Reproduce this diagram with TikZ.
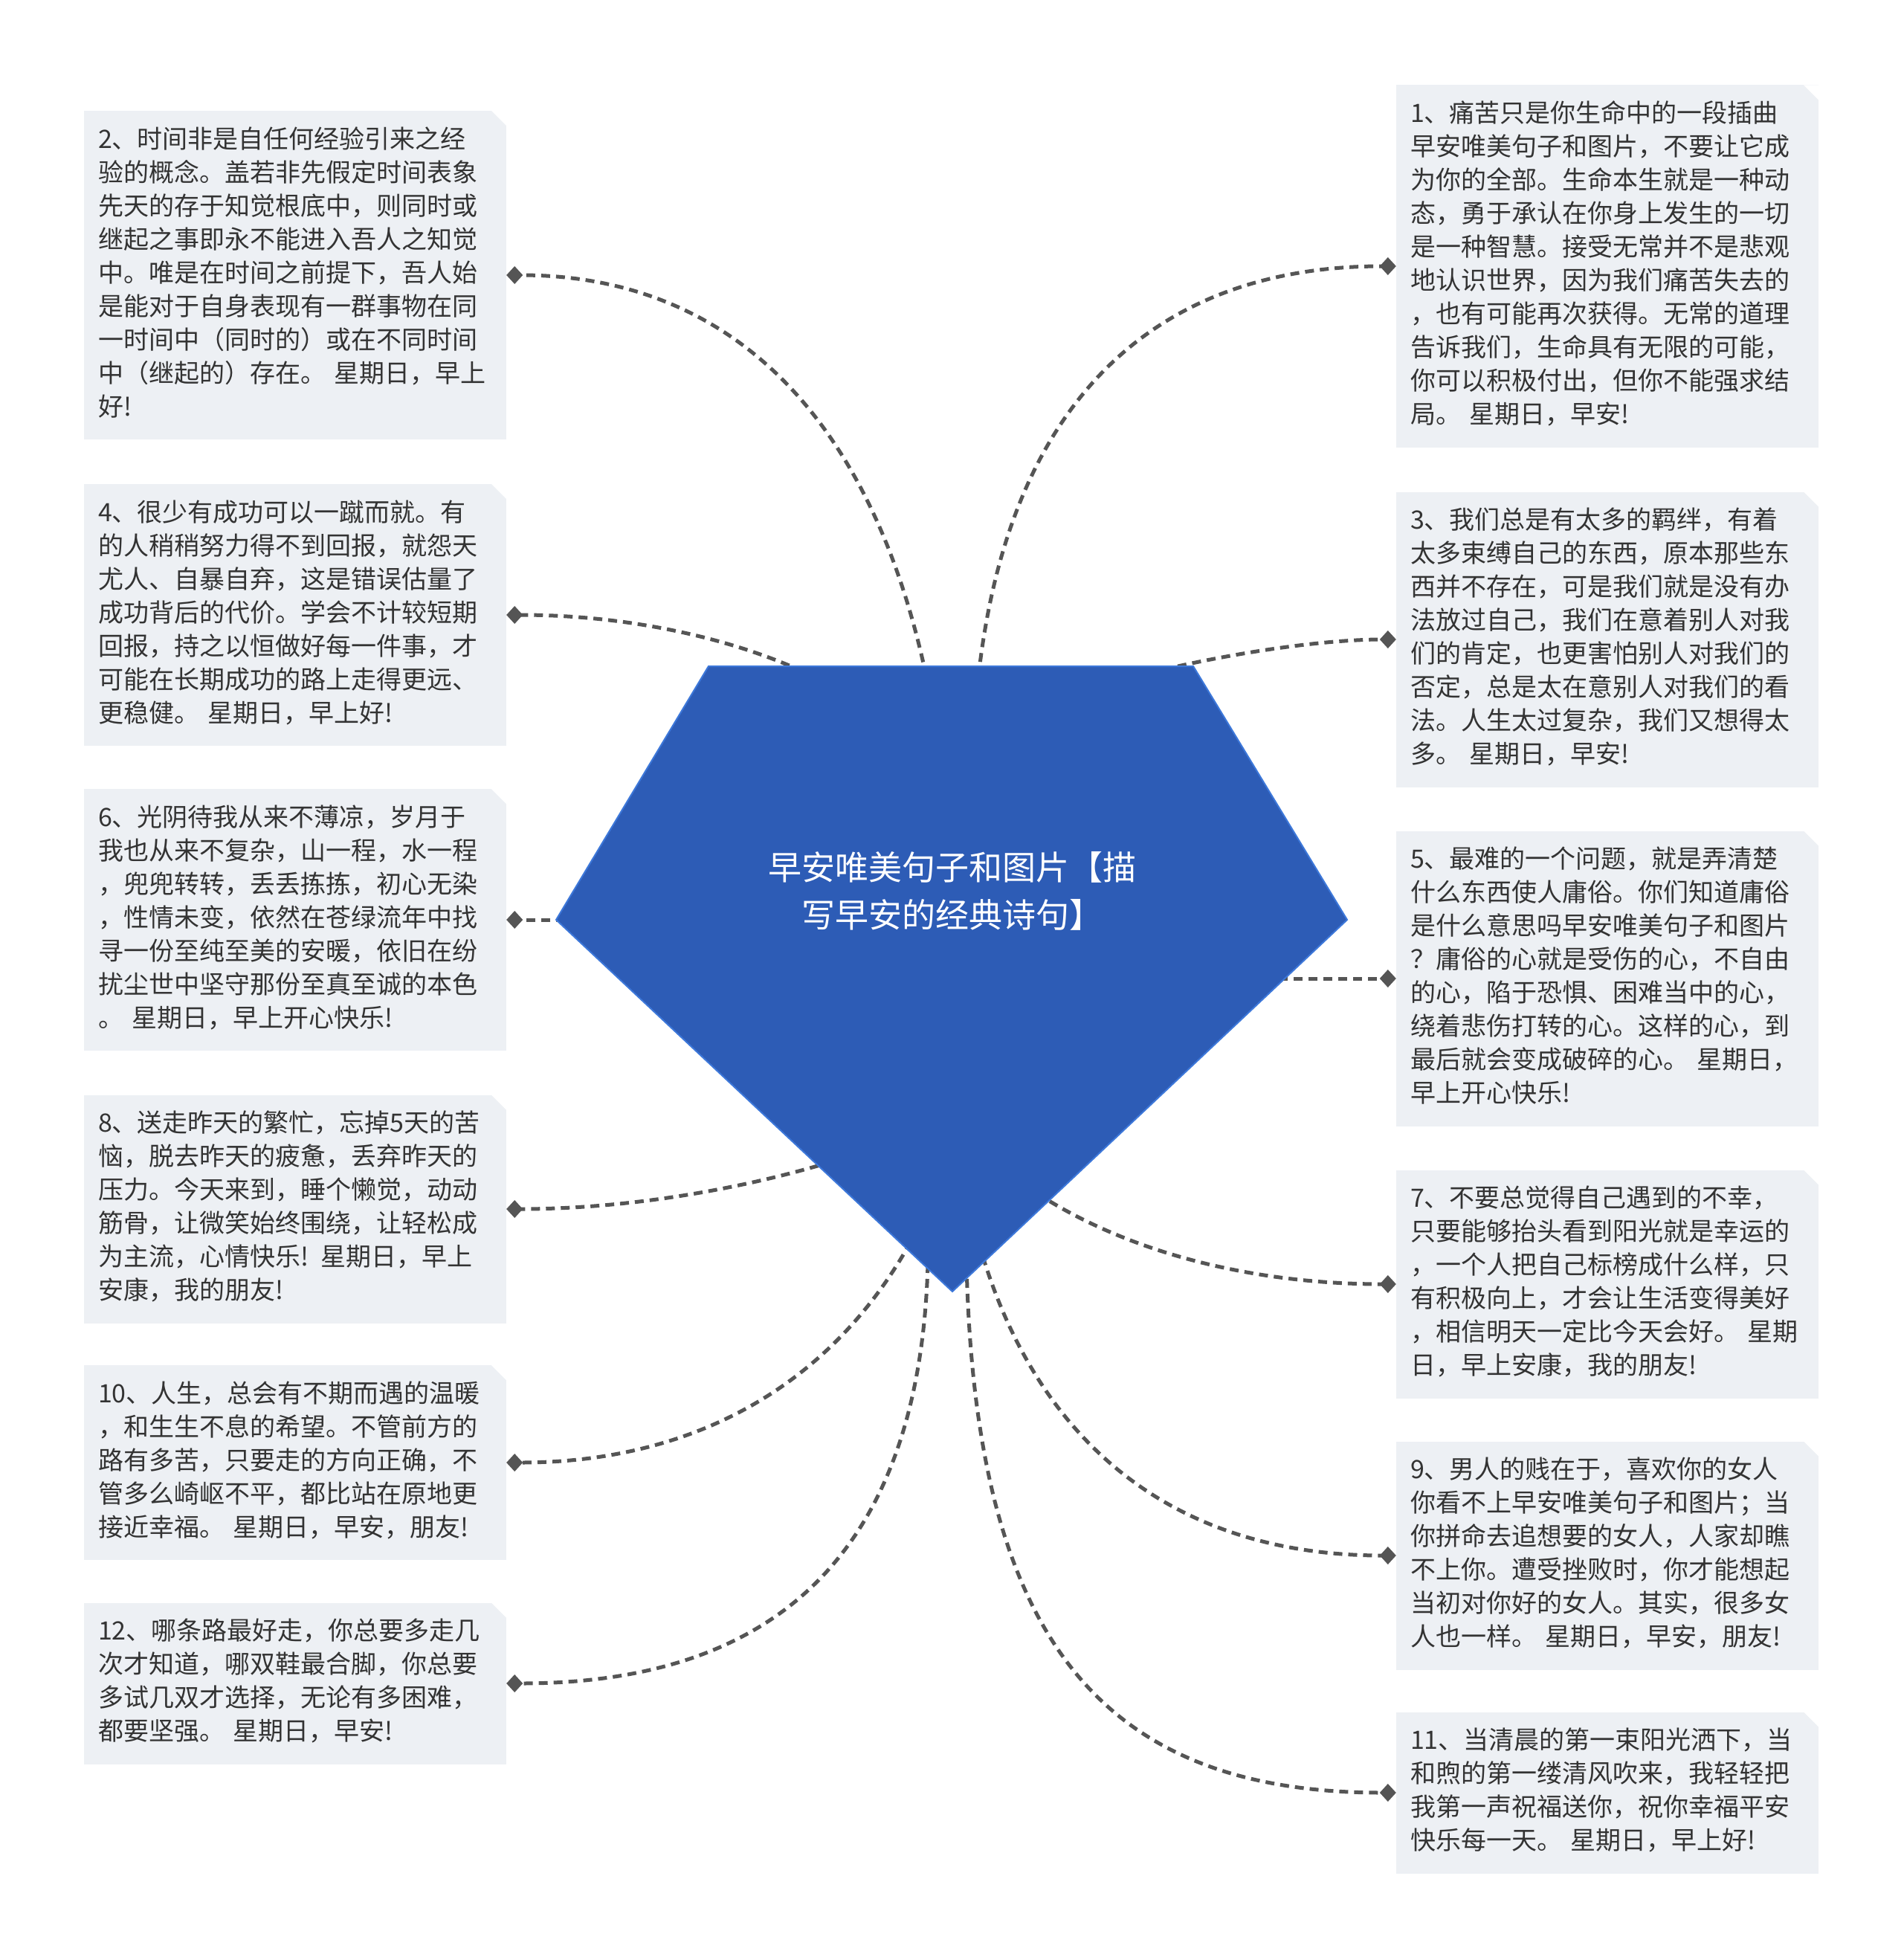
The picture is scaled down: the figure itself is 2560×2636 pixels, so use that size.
\documentclass[tikz,border=0pt]{standalone}
\usepackage{fontspec}
\setmainfont{Noto Sans CJK SC}
\usetikzlibrary{arrows.meta}
\definecolor{tinta}{HTML}{333333}
\definecolor{fondo}{HTML}{EDF0F4}
\definecolor{azul}{HTML}{2D5CB6}
\definecolor{bordeazul}{HTML}{3D78DA}
\definecolor{gris}{HTML}{555555}
\tikzset{
  frase/.style={rectangle, fill=fondo, text=tinta, align=left,
    text width=530pt, inner xsep=19pt, inner ysep=18.5pt,
    font=\fontsize{34}{45}\selectfont,
    execute at begin node=\strut, execute at end node=\strut,
    path picture={\fill[white] ([xshift=-20pt]path picture bounding box.north east)
      -- (path picture bounding box.north east)
      -- ([yshift=-20pt]path picture bounding box.north east) -- cycle;}},
  enlace/.style={draw=gris, line width=5pt, dash pattern=on 12pt off 8pt,
    -{Diamond[length=22pt,width=24pt]}},
  centro/.style={fill=azul, draw=bordeazul, line width=2pt},
  titulo/.style={text=white, align=center, font=\fontsize{45}{64}\selectfont}
}
\begin{document}
\begin{tikzpicture}[x=1pt,y=-1pt]
  \fill[white] (0,0) rectangle (2560,2636);
  \useasboundingbox (0,0) rectangle (2560,2636);

  \node[frase] (b1) at (2162,358) {1、痛苦只是你生命中的一段插曲\\早安唯美句子和图片，不要让它成\\为你的全部。生命本生就是一种动\\态，勇于承认在你身上发生的一切\\是一种智慧。接受无常并不是悲观\\地认识世界，因为我们痛苦失去的\\，也有可能再次获得。无常的道理\\告诉我们，生命具有无限的可能，\\你可以积极付出，但你不能强求结\\局。 星期日，早安!};
  \node[frase] (b2) at (397,370) {2、时间非是自任何经验引来之经\\验的概念。盖若非先假定时间表象\\先天的存于知觉根底中，则同时或\\继起之事即永不能进入吾人之知觉\\中。唯是在时间之前提下，吾人始\\是能对于自身表现有一群事物在同\\一时间中（同时的）或在不同时间\\中（继起的）存在。 星期日，早上\\好!};
  \node[frase] (b3) at (2162,860) {3、我们总是有太多的羁绊，有着\\太多束缚自己的东西，原本那些东\\西并不存在，可是我们就是没有办\\法放过自己，我们在意着别人对我\\们的肯定，也更害怕别人对我们的\\否定，总是太在意别人对我们的看\\法。人生太过复杂，我们又想得太\\多。 星期日，早安!};
  \node[frase] (b4) at (397,827) {4、很少有成功可以一蹴而就。有\\的人稍稍努力得不到回报，就怨天\\尤人、自暴自弃，这是错误估量了\\成功背后的代价。学会不计较短期\\回报，持之以恒做好每一件事，才\\可能在长期成功的路上走得更远、\\更稳健。 星期日，早上好!};
  \node[frase] (b5) at (2162,1316) {5、最难的一个问题，就是弄清楚\\什么东西使人庸俗。你们知道庸俗\\是什么意思吗早安唯美句子和图片\\？庸俗的心就是受伤的心，不自由\\的心，陷于恐惧、困难当中的心，\\绕着悲伤打转的心。这样的心，到\\最后就会变成破碎的心。 星期日，\\早上开心快乐!};
  \node[frase] (b6) at (397,1237) {6、光阴待我从来不薄凉，岁月于\\我也从来不复杂，山一程，水一程\\，兜兜转转，丢丢拣拣，初心无染\\，性情未变，依然在苍绿流年中找\\寻一份至纯至美的安暖，依旧在纷\\扰尘世中坚守那份至真至诚的本色\\。 星期日，早上开心快乐!};
  \node[frase] (b7) at (2162,1727) {7、不要总觉得自己遇到的不幸，\\只要能够抬头看到阳光就是幸运的\\，一个人把自己标榜成什么样，只\\有积极向上，才会让生活变得美好\\，相信明天一定比今天会好。 星期\\日，早上安康，我的朋友!};
  \node[frase] (b8) at (397,1626) {8、送走昨天的繁忙，忘掉5天的苦\\恼，脱去昨天的疲惫，丢弃昨天的\\压力。今天来到，睡个懒觉，动动\\筋骨，让微笑始终围绕，让轻松成\\为主流，心情快乐! 星期日，早上\\安康，我的朋友!};
  \node[frase] (b9) at (2162,2092) {9、男人的贱在于，喜欢你的女人\\你看不上早安唯美句子和图片；当\\你拼命去追想要的女人，人家却瞧\\不上你。遭受挫败时，你才能想起\\当初对你好的女人。其实，很多女\\人也一样。 星期日，早安，朋友!};
  \node[frase] (b10) at (397,1967) {10、人生，总会有不期而遇的温暖\\，和生生不息的希望。不管前方的\\路有多苦，只要走的方向正确，不\\管多么崎岖不平，都比站在原地更\\接近幸福。 星期日，早安，朋友!};
  \node[frase] (b11) at (2162,2411) {11、当清晨的第一束阳光洒下，当\\和煦的第一缕清风吹来，我轻轻把\\我第一声祝福送你，祝你幸福平安\\快乐每一天。 星期日，早上好!};
  \node[frase] (b12) at (397,2264) {12、哪条路最好走，你总要多走几\\次才知道，哪双鞋最合脚，你总要\\多试几双才选择，无论有多困难，\\都要坚强。 星期日，早安!};

  \coordinate (s1) at (1316,910);
  \coordinate (s2) at (1246,910);
  \coordinate (s3) at (1545,905);
  \coordinate (s4) at (1080,903);
  \coordinate (s5) at (1700,1316);
  \coordinate (s6) at (760,1237);
  \coordinate (s7) at (1395,1605);
  \coordinate (s8) at (1120,1562);
  \coordinate (s9) at (1322,1690);
  \coordinate (s10) at (1225,1670);
  \coordinate (s11) at (1300,1700);
  \coordinate (s12) at (1248,1700);

  \draw[enlace] (s1) .. controls +(41,-368) and +(-327,0) .. (b1.west);
  \draw[enlace] (s2) .. controls +(-77,-360) and +(293,0) .. (b2.east);
  \draw[enlace] (s3) .. controls +(125,-30) and +(-90,0) .. (b3.west);
  \draw[enlace] (s4) .. controls +(-113,-51) and +(147,0) .. (b4.east);
  \draw[enlace] (s5) -- (b5.west);
  \draw[enlace] (s6) -- (b6.east);
  \draw[enlace] (s7) .. controls +(125,81) and +(-190,0) .. (b7.west);
  \draw[enlace] (s8) .. controls +(-142,43) and +(144,0) .. (b8.east);
  \draw[enlace] (s9) .. controls +(83,269) and +(-281,0) .. (b9.west);
  \draw[enlace] (s10) .. controls +(-110,198) and +(246,0) .. (b10.east);
  \draw[enlace] (s11) .. controls +(12,500) and +(-400,0) .. (b11.west);
  \draw[enlace] (s12) .. controls +(-12,420) and +(330,0) .. (b12.east);

  \coordinate (p1) at (953,896);
  \coordinate (p2) at (1605,896);
  \coordinate (p3) at (1812,1237);
  \coordinate (p4) at (1281,1737);
  \coordinate (p5) at (748,1237);
  \filldraw[centro] (p1) -- (p2) -- (p3) -- (p4) -- (p5) -- cycle;
  \node[titulo] (tema) at (1281,1198) {早安唯美句子和图片【描\\写早安的经典诗句】};
\end{tikzpicture}
\end{document}
